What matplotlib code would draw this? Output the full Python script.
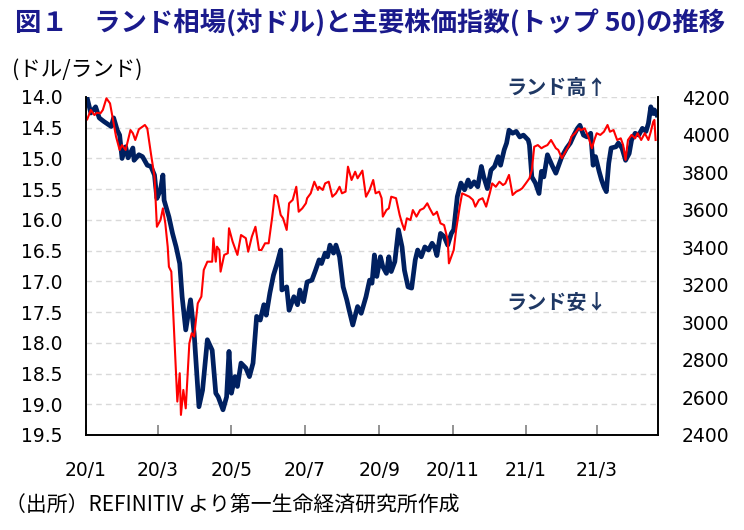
import pandas as pd
import matplotlib
matplotlib.use("Agg")
import matplotlib.pyplot as plt
import matplotlib.dates as mdates
from matplotlib.ticker import FuncFormatter, MultipleLocator

plt.rcParams["font.family"] = ["Noto Sans CJK JP", "DejaVu Sans"]

# =========================
# DATA
# =========================
rand_dates = [
    "2020-01-02", "2020-01-05", "2020-01-09", "2020-01-12", "2020-01-16", "2020-01-22", "2020-01-24", "2020-01-27", "2020-01-29", "2020-01-31",
    "2020-02-03", "2020-02-05", "2020-02-09", "2020-02-10", "2020-02-14", "2020-02-17", "2020-02-21", "2020-02-24", "2020-02-27", "2020-02-29",
    "2020-03-03", "2020-03-05", "2020-03-06", "2020-03-10", "2020-03-13", "2020-03-16", "2020-03-19", "2020-03-21", "2020-03-24", "2020-03-28",
    "2020-03-31", "2020-04-04", "2020-04-07", "2020-04-11", "2020-04-15", "2020-04-18", "2020-04-20", "2020-04-24", "2020-04-27", "2020-04-29",
    "2020-05-01", "2020-05-04", "2020-05-06", "2020-05-09", "2020-05-13", "2020-05-16", "2020-05-19", "2020-05-22", "2020-05-25", "2020-05-28",
    "2020-05-30", "2020-06-02", "2020-06-05", "2020-06-08", "2020-06-11", "2020-06-12", "2020-06-16", "2020-06-18", "2020-06-22", "2020-06-25",
    "2020-06-27", "2020-06-30", "2020-07-03", "2020-07-07", "2020-07-10", "2020-07-13", "2020-07-15", "2020-07-18", "2020-07-20", "2020-07-22",
    "2020-07-25", "2020-07-27", "2020-07-30", "2020-08-02", "2020-08-05", "2020-08-07", "2020-08-10", "2020-08-14", "2020-08-17", "2020-08-21",
    "2020-08-24", "2020-08-26", "2020-08-28", "2020-08-30", "2020-09-02", "2020-09-04", "2020-09-07", "2020-09-09", "2020-09-11", "2020-09-14",
    "2020-09-17", "2020-09-20", "2020-09-22", "2020-09-25", "2020-09-28", "2020-10-01", "2020-10-03", "2020-10-06", "2020-10-09", "2020-10-12",
    "2020-10-15", "2020-10-17", "2020-10-19", "2020-10-22", "2020-10-25", "2020-10-28", "2020-10-31", "2020-11-02", "2020-11-05", "2020-11-08",
    "2020-11-11", "2020-11-14", "2020-11-16", "2020-11-19", "2020-11-22", "2020-11-25", "2020-11-27", "2020-11-30", "2020-12-03", "2020-12-06",
    "2020-12-09", "2020-12-11", "2020-12-14", "2020-12-16", "2020-12-18", "2020-12-21", "2020-12-24", "2020-12-27", "2020-12-30", "2021-01-03",
    "2021-01-04", "2021-01-06", "2021-01-09", "2021-01-12", "2021-01-14", "2021-01-16", "2021-01-19", "2021-01-23", "2021-01-26", "2021-01-28",
    "2021-01-31", "2021-02-04", "2021-02-07", "2021-02-10", "2021-02-13", "2021-02-15", "2021-02-18", "2021-02-21", "2021-02-24", "2021-02-26",
    "2021-02-28", "2021-03-03", "2021-03-05", "2021-03-07", "2021-03-09", "2021-03-11", "2021-03-13", "2021-03-17", "2021-03-19", "2021-03-22",
    "2021-03-25", "2021-03-28", "2021-03-30", "2021-04-02", "2021-04-05", "2021-04-08", "2021-04-11", "2021-04-13", "2021-04-15", "2021-04-17",
    "2021-04-18", "2021-04-20",
]
rand_usd = [
    14.02, 14.26, 14.16, 14.34, 14.40, 14.48, 14.34, 14.54, 14.62, 15.00,
    14.81, 14.99, 14.83, 15.03, 14.94, 14.97, 15.11, 15.13, 15.27, 15.65,
    15.51, 15.27, 15.68, 15.95, 16.22, 16.44, 16.71, 17.25, 17.79, 17.30,
    17.85, 19.04, 18.77, 17.95, 18.12, 18.82, 18.88, 19.09, 18.88, 18.14,
    18.82, 18.55, 18.71, 18.33, 18.41, 18.55, 18.33, 17.57, 17.63, 17.38,
    17.55, 17.19, 16.90, 16.71, 16.49, 17.14, 17.09, 17.47, 17.25, 17.38,
    17.14, 17.33, 17.01, 16.98, 16.82, 16.65, 16.71, 16.54, 16.60, 16.41,
    16.54, 16.41, 16.60, 17.09, 17.30, 17.47, 17.71, 17.41, 17.52, 17.25,
    16.98, 17.03, 16.57, 16.92, 16.60, 16.76, 16.87, 16.60, 16.84, 16.68,
    16.16, 16.44, 16.82, 17.09, 17.11, 16.65, 16.49, 16.60, 16.44, 16.49,
    16.38, 16.44, 16.58, 16.22, 16.27, 16.41, 16.22, 16.16, 15.62, 15.40,
    15.51, 15.35, 15.46, 15.38, 15.46, 15.13, 15.30, 15.49, 15.19, 15.13,
    14.97, 15.11, 14.86, 14.75, 14.54, 14.59, 14.56, 14.65, 14.62, 14.70,
    14.78, 15.30, 15.40, 15.57, 15.21, 15.30, 14.94, 15.12, 15.24, 15.13,
    14.97, 14.83, 14.75, 14.62, 14.51, 14.46, 14.62, 14.65, 14.59, 15.11,
    14.97, 15.21, 15.35, 15.46, 15.54, 15.08, 14.83, 14.81, 14.75, 14.83,
    15.03, 14.92, 14.70, 14.59, 14.62, 14.51, 14.56, 14.43, 14.16, 14.27,
    14.21, 14.29,
]

top_dates = [
    "2020-01-02", "2020-01-05", "2020-01-08", "2020-01-10", "2020-01-13", "2020-01-15", "2020-01-18", "2020-01-21", "2020-01-23", "2020-01-26",
    "2020-01-29", "2020-01-31", "2020-02-03", "2020-02-07", "2020-02-09", "2020-02-11", "2020-02-14", "2020-02-17", "2020-02-19", "2020-02-21",
    "2020-02-24", "2020-02-27", "2020-02-29", "2020-03-03", "2020-03-05", "2020-03-07", "2020-03-09", "2020-03-10", "2020-03-12", "2020-03-14",
    "2020-03-17", "2020-03-19", "2020-03-20", "2020-03-22", "2020-03-24", "2020-03-27", "2020-03-29", "2020-03-31", "2020-04-03", "2020-04-06",
    "2020-04-08", "2020-04-11", "2020-04-15", "2020-04-16", "2020-04-18", "2020-04-19", "2020-04-21", "2020-04-22", "2020-04-25", "2020-04-28",
    "2020-04-29", "2020-05-02", "2020-05-06", "2020-05-09", "2020-05-13", "2020-05-15", "2020-05-18", "2020-05-21", "2020-05-24", "2020-05-26",
    "2020-05-29", "2020-06-01", "2020-06-04", "2020-06-06", "2020-06-08", "2020-06-11", "2020-06-13", "2020-06-16", "2020-06-18", "2020-06-21",
    "2020-06-24", "2020-06-26", "2020-06-29", "2020-07-02", "2020-07-03", "2020-07-06", "2020-07-09", "2020-07-12", "2020-07-13", "2020-07-16",
    "2020-07-18", "2020-07-21", "2020-07-24", "2020-07-27", "2020-07-30", "2020-08-01", "2020-08-04", "2020-08-06", "2020-08-09", "2020-08-12",
    "2020-08-14", "2020-08-18", "2020-08-21", "2020-08-24", "2020-08-27", "2020-08-29", "2020-09-01", "2020-09-03", "2020-09-04", "2020-09-07",
    "2020-09-09", "2020-09-11", "2020-09-15", "2020-09-18", "2020-09-20", "2020-09-22", "2020-09-24", "2020-09-27", "2020-09-29", "2020-10-02",
    "2020-10-05", "2020-10-08", "2020-10-11", "2020-10-13", "2020-10-16", "2020-10-18", "2020-10-19", "2020-10-22", "2020-10-25", "2020-10-28",
    "2020-10-29", "2020-10-31", "2020-11-02", "2020-11-04", "2020-11-07", "2020-11-09", "2020-11-12", "2020-11-15", "2020-11-18", "2020-11-20",
    "2020-11-23", "2020-11-26", "2020-11-29", "2020-12-02", "2020-12-04", "2020-12-07", "2020-12-10", "2020-12-13", "2020-12-15", "2020-12-18",
    "2020-12-21", "2020-12-24", "2020-12-27", "2020-12-29", "2021-01-01", "2021-01-04", "2021-01-06", "2021-01-08", "2021-01-11", "2021-01-14",
    "2021-01-16", "2021-01-19", "2021-01-22", "2021-01-26", "2021-01-28", "2021-01-31", "2021-02-03", "2021-02-06", "2021-02-08", "2021-02-11",
    "2021-02-14", "2021-02-16", "2021-02-19", "2021-02-22", "2021-02-25", "2021-02-27", "2021-03-01", "2021-03-04", "2021-03-07", "2021-03-10",
    "2021-03-12", "2021-03-15", "2021-03-18", "2021-03-21", "2021-03-23", "2021-03-25", "2021-03-27", "2021-03-30", "2021-04-02", "2021-04-04",
    "2021-04-07", "2021-04-10", "2021-04-13", "2021-04-15", "2021-04-17", "2021-04-18", "2021-04-19",
]
top_index = [
    4081, 4131, 4104, 4116, 4113, 4131, 4193, 4166, 4095, 3989,
    3918, 3944, 3918, 4024, 4007, 3971, 4028, 4042, 4051, 4033,
    3900, 3776, 3509, 3545, 3607, 3527, 3402, 3296, 3270, 2995,
    2578, 2729, 2507, 2640, 2542, 2888, 2942, 2924, 3101, 3137,
    3279, 3323, 3323, 3448, 3323, 3403, 3385, 3270, 3359, 3368,
    3501, 3430, 3359, 3465, 3448, 3376, 3456, 3509, 3385, 3385,
    3421, 3421, 3563, 3678, 3669, 3572, 3554, 3492, 3634, 3652,
    3722, 3589, 3607, 3634, 3661, 3687, 3749, 3705, 3722, 3705,
    3740, 3749, 3669, 3687, 3722, 3687, 3696, 3829, 3758, 3802,
    3767, 3808, 3669, 3705, 3758, 3687, 3696, 3661, 3563, 3598,
    3607, 3669, 3661, 3572, 3527, 3492, 3554, 3545, 3598, 3563,
    3598, 3607, 3634, 3607, 3572, 3581, 3589, 3527, 3518, 3439,
    3314, 3350, 3385, 3492, 3616, 3687, 3678, 3669, 3652, 3616,
    3652, 3661, 3616, 3687, 3740, 3722, 3749, 3731, 3740, 3785,
    3678, 3696, 3705, 3714, 3740, 3767, 3811, 3935, 3944, 3927,
    3935, 3944, 3971, 3927, 3918, 3874, 3909, 3944, 3989, 4007,
    4033, 4024, 4033, 3989, 3927, 3971, 4007, 3998, 4015, 4051,
    4015, 4024, 3971, 3980, 3944, 3865, 3971, 3998, 3980, 4007,
    3971, 4007, 3971, 4015, 4068, 4078, 3971,
]

title = "図１　ランド相場(対ドル)と主要株価指数(トップ 50)の推移"
left_unit = "(ドル/ランド)"
note_up = "ランド高↑"
note_down = "ランド安↓"
source = "（出所）REFINITIV より第一生命経済研究所作成"

x_start = "2020-01-01"
x_end = "2021-04-21"

navy = "#002060"
red = "#ff0000"
grid_gray = "#d9d9d9"
num_font = "DejaVu Sans"

# =========================
# FIGURE
# =========================
fig = plt.figure(figsize=(7.44, 5.30), dpi=100)
ax = fig.add_axes([86 / 744, 95 / 530, 572 / 744, 338 / 530])

ax.plot(
    pd.to_datetime(rand_dates),
    rand_usd,
    color=navy,
    linewidth=3.4,
    solid_joinstyle="round"
)

ax.set_ylim(19.5, 14.0)
ax.yaxis.set_major_locator(MultipleLocator(0.5))
ax.yaxis.set_major_formatter(FuncFormatter(lambda v, p: f"{v:.1f}"))
ax.grid(axis="y", color=grid_gray, linestyle=(0, (4, 3)), linewidth=1)
ax.set_axisbelow(True)

ax.set_xlim(pd.Timestamp(x_start), pd.Timestamp(x_end))
ax.xaxis.set_major_locator(mdates.MonthLocator(bymonth=[1, 3, 5, 7, 9, 11]))
ax.xaxis.set_major_formatter(
    FuncFormatter(lambda v, p: f"{mdates.num2date(v).year % 100}/{mdates.num2date(v).month}")
)

ax2 = ax.twinx()
ax2.plot(
    pd.to_datetime(top_dates),
    top_index,
    color=red,
    linewidth=1.5
)
ax2.set_ylim(2400, 4200)
ax2.yaxis.set_major_locator(MultipleLocator(200))

# =========================
# AXES STYLE
# =========================
for a in (ax, ax2):
    a.spines["top"].set_visible(False)
    for side in ("left", "right", "bottom"):
        a.spines[side].set_color("black")
        a.spines[side].set_linewidth(1.2)

ax.tick_params(axis="y", length=0, pad=17, labelsize=13.5)
ax2.tick_params(axis="y", length=0, pad=17, labelsize=13.5)
ax.tick_params(axis="x", direction="in", length=7, width=1.2,
               color="#808080", pad=19, labelsize=13.5)

for lbl in ax.get_xticklabels() + ax.get_yticklabels() + ax2.get_yticklabels():
    lbl.set_fontfamily(num_font)

# =========================
# TEXTS
# =========================
fig.text(15 / 744, 1 - 24 / 530, title, fontsize=19, fontweight="bold",
         color="#1a1a8c", ha="left", va="center")

fig.text(12 / 744, 1 - 70 / 530, left_unit, fontsize=15.5,
         ha="left", va="center")

ax.text(0.823, 1.027, note_up, transform=ax.transAxes, fontsize=14.5,
        fontweight="bold", color="#1f3864", ha="center", va="center")
ax.text(0.823, 0.393, note_down, transform=ax.transAxes, fontsize=14.5,
        fontweight="bold", color="#1f3864", ha="center", va="center")

fig.text(5 / 744, 1 - 506 / 530, source, fontsize=15,
         ha="left", va="center")

fig.savefig("out.png", dpi=100)
